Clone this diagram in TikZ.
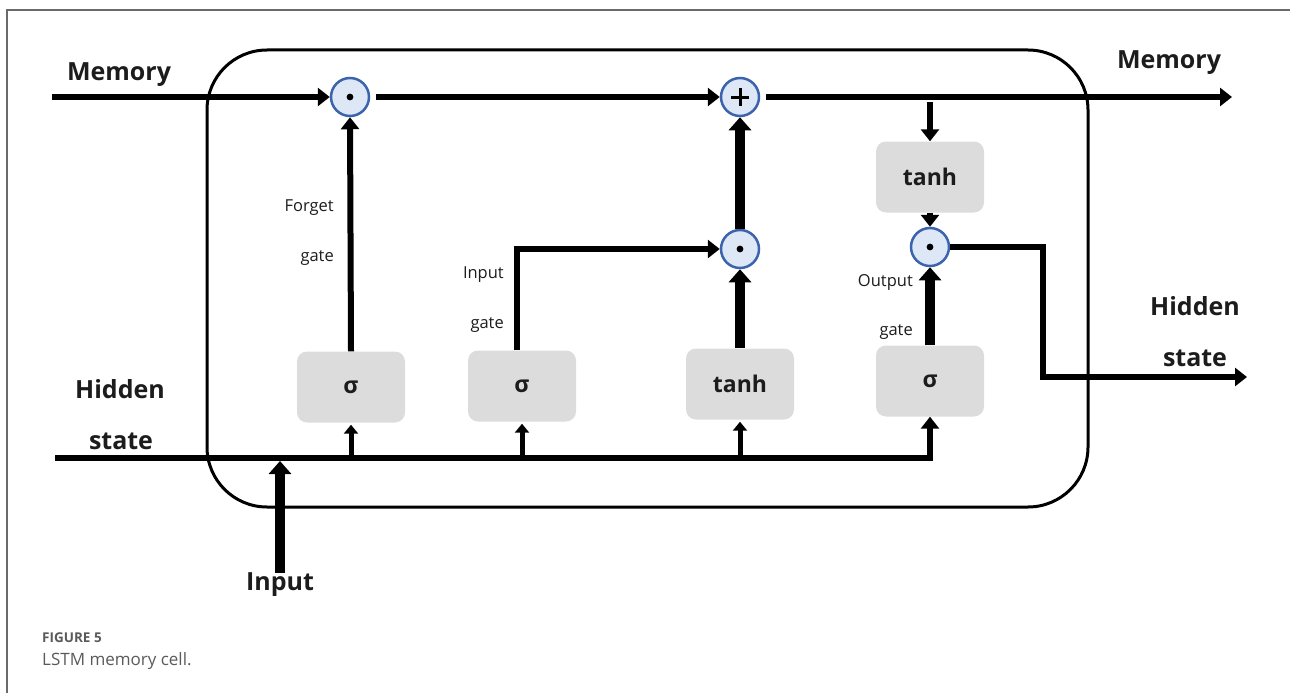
\documentclass[tikz,border=0pt]{standalone}
\usepackage{fontspec}
\setmainfont{Open Sans}
\usetikzlibrary{arrows.meta}

\definecolor{boxgray}{HTML}{DCDCDC}
\definecolor{opfill}{HTML}{DDE7F5}
\definecolor{opedge}{HTML}{3B63AE}
\definecolor{inkdark}{HTML}{1C1C1C}
\definecolor{capgray}{HTML}{5A5A5A}
\definecolor{framegray}{HTML}{6A6A6A}

\begin{document}
\begin{tikzpicture}[x=1pt,y=-1pt,
  gatebox/.style={fill=boxgray, rounded corners=10pt, minimum width=108pt,
    minimum height=71pt, inner sep=0pt, text=inkdark, font=\fontsize{23}{27}\selectfont\bfseries},
  op/.style={circle, draw=opedge, fill=opfill, line width=2.5pt,
    minimum size=38pt, inner sep=0pt},
  flow/.style={line width=6pt, -{Triangle[length=12pt,width=18pt]}},
  bigflow/.style={line width=9.5pt, -{Triangle[length=13pt,width=22pt]}},
  tick/.style={line width=5pt, -{Triangle[length=9pt,width=14pt]}},
  biglabel/.style={text=inkdark, font=\fontsize{25}{30}\selectfont\bfseries, inner sep=0pt},
  smalllabel/.style={text=inkdark, font=\fontsize{16.5}{19}\selectfont, inner sep=0pt, anchor=east},
]
\useasboundingbox (0,0) rectangle (1290,693);

% page frame (top and left rules)
\draw[line width=1.5pt, draw=framegray] (7,693) -- (7,10) -- (1290,10);

% cell outline
\node[draw, line width=3pt, rounded corners=60pt, minimum width=881pt,
      minimum height=457pt, inner sep=0pt] (cell) at (647.5,278.5) {};

% point-wise operators
\node[op] (mulf) at (350,97) {};
\node[op] (add)  at (740,97) {};
\node[op] (muli) at (740,249) {};
\node[op] (mulo) at (930,247) {};
\foreach \n in {mulf,muli,mulo}
  \fill (\n.center) circle (3.4pt);
\draw[line width=3pt] ([xshift=-9pt]add.center) -- ([xshift=9pt]add.center)
                      ([yshift=-9pt]add.center) -- ([yshift=9pt]add.center);

% gate layers
\node[gatebox] (fg)  at (351,387) {σ};
\node[gatebox] (ig)  at (522,386) {σ};
\node[gatebox] (cg)  at (740,384) {tanh};
\node[gatebox] (og)  at (930,381) {σ};
\node[gatebox] (ct)  at (930,177) {tanh};

% free ends
\coordinate (memin)  at (52,97);
\coordinate (memout) at (1232,97);
\coordinate (memtap) at (930,102);
\coordinate (hidin)  at (55,458);
\coordinate (hbend)  at (1043,377);
\coordinate (hidout) at (1247,377);

% cell state path
\draw[flow] (memin) -- (mulf.west);
\draw[flow, shorten <=6pt] (mulf.east) -- (add.west);
\draw[flow, shorten <=6pt] (add.east) -- (memout);
\draw[flow] (memtap) -- (ct.north);
\draw[flow] (ct.south) -- (mulo.north);

% gates
\draw[flow] (fg.north) -- (mulf.south);
\draw[flow] ([xshift=-5pt]ig.north) |- (muli.west);
\draw[bigflow] (cg.north) -- (muli.south);
\draw[bigflow] (muli.north) -- (add.south);
\draw[bigflow] (og.north) -- (mulo.south);

% hidden state output
\draw[flow] (mulo.east) -| (hbend) -- (hidout);

% hidden state input and feeds
\draw[flow] (hidin) -| (og.south);
\foreach \b in {fg,ig,cg}
  \draw[tick, shorten >=2pt] (\b.south |- hidin) -- (\b.south);

% external input
\node[biglabel] (inlabel) at (280,585) {Input};
\draw[bigflow, shorten >=3pt] (inlabel.north) -- (inlabel.north |- hidin);

% labels
\node[biglabel] (memlabin)  at (119,75) {Memory};
\node[biglabel] (memlabout) at (1169,63) {Memory};
\node[biglabel] (hidlabin1) at (120,389) {Hidden};
\node[biglabel] (hidlabin2) at (121,441) {state};
\node[biglabel] (hidlabout1) at (1195,306) {Hidden};
\node[biglabel] (hidlabout2) at (1195,358) {state};

\node[smalllabel] (fl1) at (334,208) {Forget};
\node[smalllabel] (fl2) at (334,258) {gate};
\node[smalllabel] (il1) at (504,275) {Input};
\node[smalllabel] (il2) at (504,325) {gate};
\node[smalllabel] (ol1) at (913,282) {Output};
\node[smalllabel] (ol2) at (913,332) {gate};

% caption
\node[anchor=west, inner sep=0pt, text=capgray,
      font=\fontsize{13.5}{16}\selectfont\bfseries] (figno) at (42,638) {FIGURE 5};
\node[anchor=west, inner sep=0pt, text=capgray,
      font=\fontsize{17}{20}\selectfont] (figcap) at (42,661) {LSTM memory cell.};
\end{tikzpicture}
\end{document}
